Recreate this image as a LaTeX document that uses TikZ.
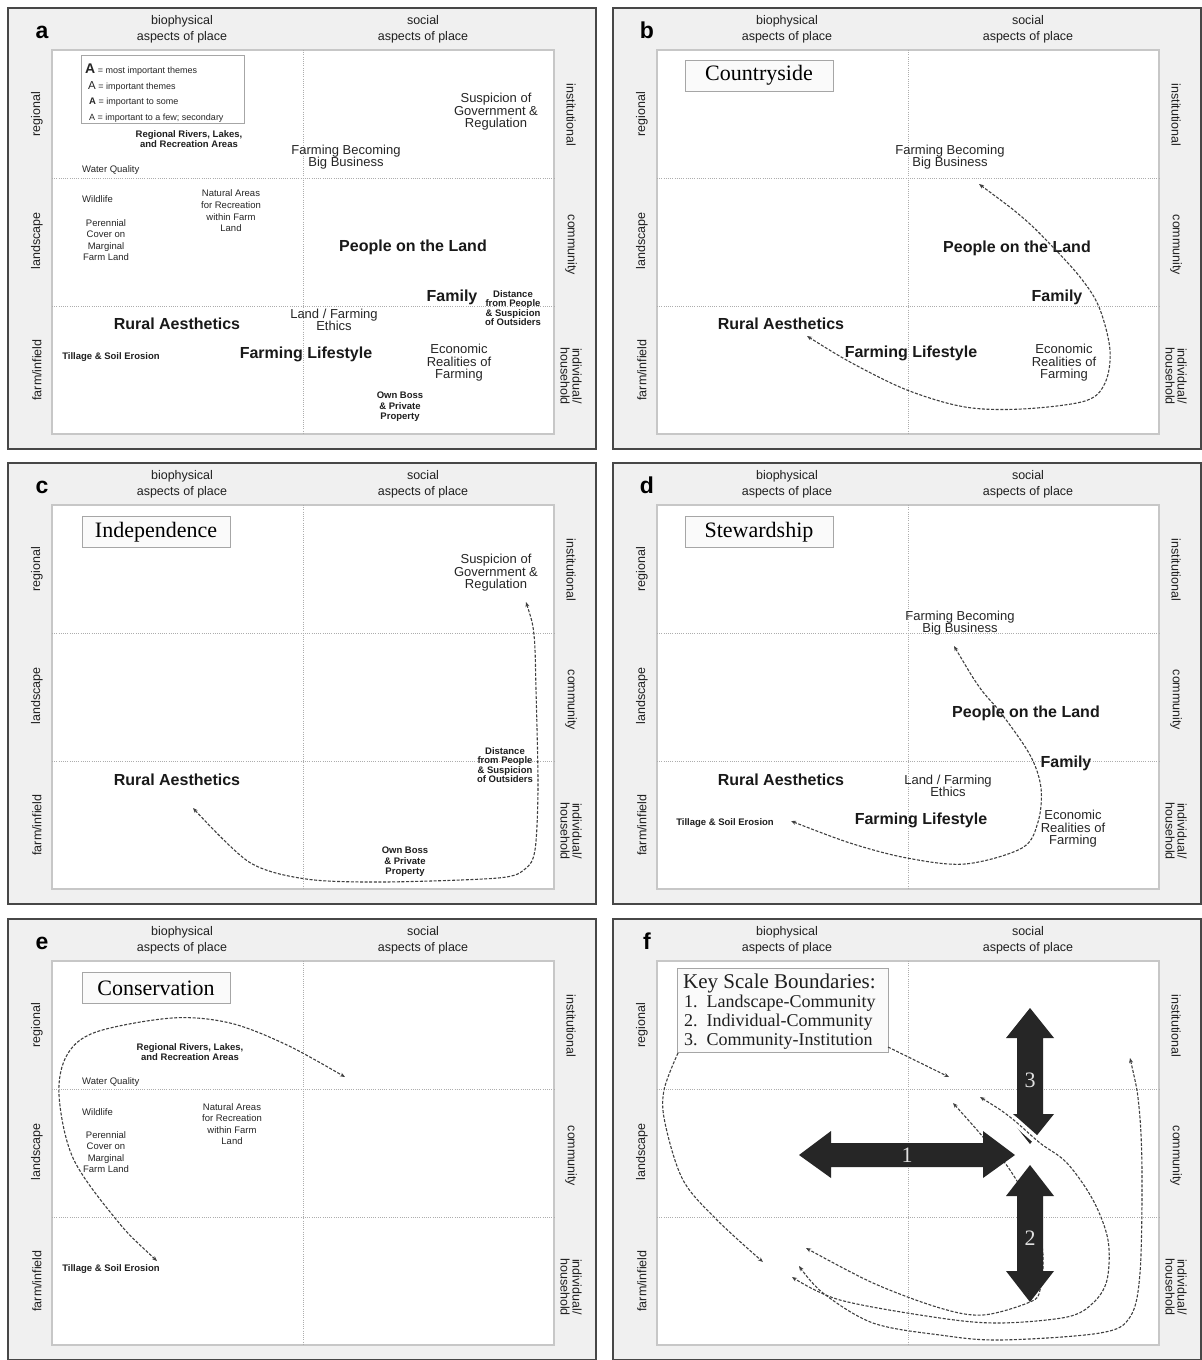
\documentclass[tikz,border=0pt]{standalone}
\usepackage{fontspec}
\setmainfont{Liberation Sans}
\newfontfamily\seriffont{Liberation Serif}
\usetikzlibrary{arrows.meta}
\newcommand\fsz[2]{\fontsize{#1}{#2}\selectfont}
\tikzset{
  outerframe/.style={draw=black!72, line width=1.4pt, fill=black!6},
  innerframe/.style={draw=black!22, line width=1.5pt, fill=white},
  divider/.style={draw=black!32, line width=0.8pt, dash pattern=on 1pt off 1.2pt},
  axislabel/.style={align=center, font=\fsz{12.5}{16}, text=black!88, inner sep=0},
  panelletter/.style={font=\bfseries\fsz{23}{23}, inner sep=0, anchor=base},
  big/.style={font=\bfseries\fsz{16}{17}, inner sep=0, align=center, text=black!90},
  mid/.style={font=\fsz{13}{12.5}, inner sep=0, align=center, text=black!85},
  small/.style={font=\bfseries\fsz{9.5}{10.5}, inner sep=0, align=center, text=black!88},
  tiny/.style={font=\fsz{9.5}{11.6}, inner sep=0, align=center, text=black!85},
  titlebox/.style={draw=black!35, fill=black!2, line width=0.8pt, minimum width=148, minimum height=31, inner sep=0, font=\seriffont\fsz{22}{22}},
  keybox/.style={draw=black!35, fill=black!2, line width=0.8pt, inner sep=0},
  keytext/.style={anchor=base west, inner sep=0, font=\seriffont\fsz{18}{18}, text=black!88},
  legtext/.style={anchor=base west, inner sep=0, font=\fsz{9}{10}, text=black!85},
  flow/.style={draw=black!75, line width=1.1pt, dash pattern=on 3pt off 1.6pt, <->},
  flowone/.style={draw=black!75, line width=1.1pt, dash pattern=on 3pt off 1.6pt, ->},
  bigarrow/.style={fill=black!85},
  biglabel/.style={inner sep=0, font=\seriffont\fsz{22}{22}, text=black!12},
}
\newcommand\panelframe[3]{%
  \begin{scope}[shift={(#2,#3)}]
    \draw[outerframe] (8,8) rectangle (596,449);
    \draw[innerframe] (52,50) rectangle (554,434);
    \draw[divider] (303,50) -- (303,434);
    \draw[divider] (52,178) -- (554,178);
    \draw[divider] (52,306) -- (554,306);
    \node[panelletter] (#1-letter) at (42,38.5) {#1};
    \node[axislabel] (#1-bio) at (182,29) {biophysical\\aspects of place};
    \node[axislabel] (#1-soc) at (423,29) {social\\aspects of place};
    \node[axislabel, rotate=90] (#1-reg) at (37,114) {regional};
    \node[axislabel, rotate=90] (#1-lan) at (37,241) {landscape};
    \node[axislabel, rotate=90] (#1-farm) at (37,370) {farm/infield};
    \node[axislabel, rotate=-90] (#1-inst) at (571,115) {institutional};
    \node[axislabel, rotate=-90] (#1-com) at (571,245) {community};
    \node[axislabel, rotate=-90, font=\fsz{12.5}{12}] (#1-ind) at (571,376) {individual/\\household};
  \end{scope}}
\begin{document}
\begin{tikzpicture}[x=1pt, y=-1pt, >={Stealth[length=5pt,width=4pt]}]
\useasboundingbox (0,0) rectangle (1202,1360);
\fill[white] (0,0) rectangle (1202,1360);

\panelframe{a}{0}{0}
\panelframe{b}{605}{0}
\panelframe{c}{0}{455}
\panelframe{d}{605}{455}
\panelframe{e}{0}{911}
\panelframe{f}{605}{911}

% ---------- panel a ----------
\node[draw=black!35, line width=0.8pt, fill=white, minimum width=163, minimum height=68, anchor=north west, inner sep=0] (a-legend) at (81,55) {};
\node[legtext] (a-leg1) at (85,73.5) {{\bfseries\fsz{14}{14}A} = most important themes};
\node[legtext] (a-leg2) at (88,89) {{\fsz{11.5}{11.5}A} = important themes};
\node[legtext] (a-leg3) at (89,104.5) {{\bfseries\fsz{9.5}{9.5}A} = important to some};
\node[legtext] (a-leg4) at (89,120) {{\fsz{9}{9}A} = important to a few; secondary};

\node[small] (a-rivers) at (189,139) {Regional Rivers, Lakes,\\and Recreation Areas};
\node[tiny, anchor=west] (a-water) at (82,170) {Water Quality};
\node[tiny, anchor=west] (a-wild) at (82,199) {Wildlife};
\node[tiny] (a-natural) at (231,211) {Natural Areas\\for Recreation\\within Farm\\Land};
\node[tiny] (a-perennial) at (106,240) {Perennial\\Cover on\\Marginal\\Farm Land};
\node[mid] (a-bigbiz) at (346,157) {Farming Becoming\\Big Business};
\node[mid] (a-susp) at (496,112) {Suspicion of\\Government \&\\Regulation};
\node[big] (a-people) at (413,247) {People on the Land};
\node[big] (a-family) at (452,297) {Family};
\node[small, font=\bfseries\fsz{9.5}{9.5}] (a-dist) at (513,308) {Distance\\from People\\\& Suspicion\\of Outsiders};
\node[mid] (a-ethics) at (334,320) {Land / Farming\\Ethics};
\node[big] (a-rural) at (177,324) {Rural Aesthetics};
\node[small] (a-tillage) at (111,357) {Tillage \& Soil Erosion};
\node[big] (a-life) at (306,354) {Farming Lifestyle};
\node[mid] (a-econ) at (459,363) {Economic\\Realities of\\Farming};
\node[small] (a-boss) at (400,407) {Own Boss\\\& Private\\Property};

% ---------- panel b ----------
\node[titlebox] (b-title) at (759,75.5) {Countryside};
\node[mid] (b-bigbiz) at (950,157) {Farming Becoming\\Big Business};
\node[big] (b-people) at (1017,248) {People on the Land};
\node[big] (b-family) at (1057,297) {Family};
\node[big] (b-rural) at (781,324) {Rural Aesthetics};
\node[big] (b-life) at (911,353) {Farming Lifestyle};
\node[mid] (b-econ) at (1064,363) {Economic\\Realities of\\Farming};
\coordinate (b-s) at (979,184);
\coordinate (b-e) at (807,336);
\draw[flow] plot[smooth, tension=0.55] coordinates {(b-s) (1022,217) (1049,243) (1080,277) (1099,307) (1110,350) (1105,383) (1085,401) (1022,409) (965,407) (907,390) (850,362) (b-e)};

% ---------- panel c ----------
\node[titlebox] (c-title) at (156,532) {Independence};
\node[mid] (c-susp) at (496,573) {Suspicion of\\Government \&\\Regulation};
\node[small, font=\bfseries\fsz{9.5}{9.5}] (c-dist) at (505,765) {Distance\\from People\\\& Suspicion\\of Outsiders};
\node[big] (c-rural) at (177,780) {Rural Aesthetics};
\node[small] (c-boss) at (405,862) {Own Boss\\\& Private\\Property};
\coordinate (c-s) at (526,602);
\coordinate (c-e) at (193,808);
\draw[flow] plot[smooth, tension=0.5] coordinates {(c-s) (534,635) (536,690) (538,788) (535,850) (525,869) (498,878) (383,882) (306,879) (249,862) (c-e)};

% ---------- panel d ----------
\node[titlebox] (d-title) at (759,532) {Stewardship};
\node[mid] (d-bigbiz) at (960,623) {Farming Becoming\\Big Business};
\node[big] (d-people) at (1026,713) {People on the Land};
\node[big] (d-family) at (1066,763) {Family};
\node[big] (d-rural) at (781,780) {Rural Aesthetics};
\node[mid] (d-ethics) at (948,786) {Land / Farming\\Ethics};
\node[small] (d-tillage) at (725,823) {Tillage \& Soil Erosion};
\node[big] (d-life) at (921,820) {Farming Lifestyle};
\node[mid] (d-econ) at (1073,829) {Economic\\Realities of\\Farming};
\coordinate (d-s) at (954,646);
\coordinate (d-e) at (791,821);
\draw[flow] plot[smooth, tension=0.55] coordinates {(d-s) (980,688) (1001,713) (1030,755) (1041,788) (1038,822) (1022,848) (965,864) (907,858) (850,843) (d-e)};

% ---------- panel e ----------
\node[titlebox] (e-title) at (156,988) {Conservation};
\node[small] (e-rivers) at (190,1052) {Regional Rivers, Lakes,\\and Recreation Areas};
\node[tiny, anchor=west] (e-water) at (82,1082) {Water Quality};
\node[tiny, anchor=west] (e-wild) at (82,1112) {Wildlife};
\node[tiny] (e-natural) at (232,1124) {Natural Areas\\for Recreation\\within Farm\\Land};
\node[tiny] (e-perennial) at (106,1152) {Perennial\\Cover on\\Marginal\\Farm Land};
\node[small] (e-tillage) at (111,1269) {Tillage \& Soil Erosion};
\coordinate (e-s) at (157,1261);
\coordinate (e-e) at (345,1077);
\draw[flow] plot[smooth, tension=0.55] coordinates {(e-s) (115,1218) (73,1158) (59,1095) (67,1055) (96,1032) (172,1018) (230,1023) (287,1045) (e-e)};

% ---------- panel f ----------
\node[keybox, minimum width=211, minimum height=84, anchor=north west] (f-key) at (677,968) {};
\node[keytext, font=\seriffont\fsz{21}{21}] (f-k0) at (683,988) {Key Scale Boundaries:};
\node[keytext] (f-k1) at (684,1007) {1.\ \ Landscape-Community};
\node[keytext] (f-k2) at (684,1026) {2.\ \ Individual-Community};
\node[keytext] (f-k3) at (684,1045) {3.\ \ Community-Institution};

% curve hidden behind arrow 2
\coordinate (f-c3s) at (953,1103);
\coordinate (f-c3e) at (806,1248);
\draw[flow] plot[smooth, tension=0.55] coordinates {(f-c3s) (983,1137) (1010,1170) (1035,1215) (1043,1255) (1040,1290) (1030,1302) (983,1315) (940,1308) (873,1283) (f-c3e)};

% big arrows
\fill[bigarrow] (799,1155) -- (831,1131) -- (831,1143) -- (983,1143) -- (983,1131) -- (1015,1155) -- (983,1178) -- (983,1167) -- (831,1167) -- (831,1178) -- cycle;
\fill[bigarrow] (1030,1008) -- (1054,1038) -- (1043,1038) -- (1043,1114) -- (1054,1114) -- (1030,1144) -- (1006,1114) -- (1017,1114) -- (1017,1038) -- (1006,1038) -- cycle;
\fill[bigarrow] (1030,1165) -- (1054,1196) -- (1043,1196) -- (1043,1271) -- (1054,1271) -- (1030,1302) -- (1006,1271) -- (1017,1271) -- (1017,1196) -- (1006,1196) -- cycle;
\node[biglabel] (f-n1) at (907,1155) {1};
\node[biglabel] (f-n3) at (1030,1080) {3};
\node[biglabel] (f-n2) at (1030,1238) {2};

% white gap across the arrow tips
\draw[white, line width=8pt] plot[smooth] coordinates {(992,1106) (1010,1117) (1040,1143) (1067,1163) (1086,1190)};

\coordinate (f-c1s) at (678,1053);
\coordinate (f-c1e) at (763,1262);
\draw[flowone] plot[smooth, tension=0.55] coordinates {(f-c1s) (664,1090) (665,1123) (683,1180) (717,1220) (f-c1e)};
\coordinate (f-c2s) at (888,1047);
\coordinate (f-c2e) at (949,1077);
\draw[flowone] (f-c2s) -- (f-c2e);
\coordinate (f-cbs) at (980,1097);
\coordinate (f-cbe) at (792,1277);
\draw[flow] plot[smooth, tension=0.55] coordinates {(f-cbs) (1010,1117) (1040,1143) (1067,1163) (1093,1200) (1108,1240) (1107,1280) (1093,1303) (1067,1317) (1000,1323) (940,1318) (840,1300) (f-cbe)};
\coordinate (f-ccs) at (1130,1058);
\coordinate (f-cce) at (799,1266);
\draw[flow] plot[smooth, tension=0.55] coordinates {(f-ccs) (1139,1107) (1142,1173) (1140,1273) (1130,1317) (1100,1333) (1000,1340) (940,1335) (873,1323) (823,1293) (f-cce)};
\end{tikzpicture}
\end{document}
